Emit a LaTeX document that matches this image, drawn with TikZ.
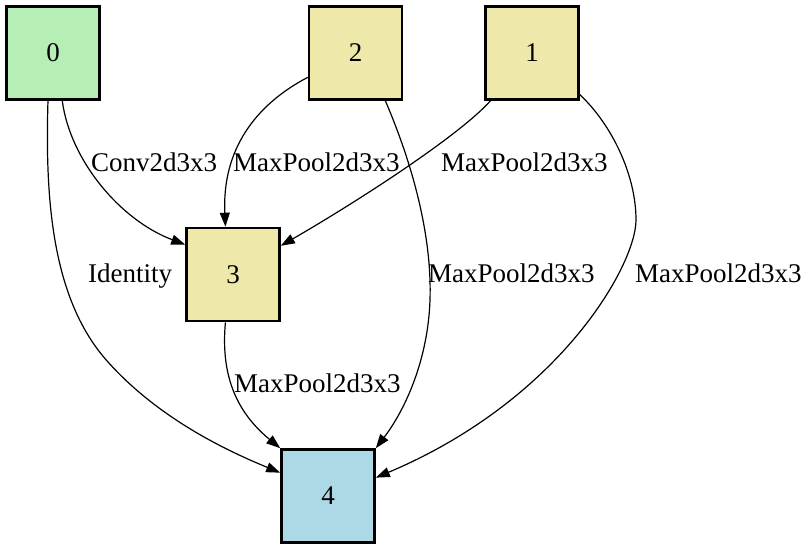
\documentclass[tikz,border=0pt]{standalone}
\usepackage{fontspec}
\setmainfont{Liberation Serif}
\usetikzlibrary{arrows.meta}
\definecolor{opgreen}{HTML}{B5EFB5}
\definecolor{opkhaki}{HTML}{EEE8AA}
\definecolor{opblue}{HTML}{ADD8E6}
\begin{document}
\begin{tikzpicture}[x=1pt,y=-1pt,
  opnode/.style={draw=black, line width=2.6pt, minimum width=93pt, minimum height=93pt,
    inner sep=0pt, font=\fontsize{27}{30}\selectfont},
  edgelbl/.style={anchor=base west, inner sep=0pt, font=\fontsize{27}{30}\selectfont},
  flow/.style={line width=1.2pt, -{Triangle[length=14pt,width=10pt]}}]
\useasboundingbox (0,0) rectangle (811,549);
% operation nodes
\node[opnode, fill=opgreen] (n0) at (53,53) {0};
\node[opnode, fill=opkhaki] (n2) at (355.5,53) {2};
\node[opnode, fill=opkhaki] (n1) at (532,53) {1};
\node[opnode, fill=opkhaki] (n3) at (233,274.5) {3};
\node[opnode, fill=opblue] (n4) at (328,496) {4};
% edges
\draw[flow] (n0.-79.4) .. controls (70,160) and (120,220) .. (n3.148);
\draw[flow] (n0.-96) .. controls (45,200) and (52,300) .. (108,362)
  .. controls (160,420) and (230,452) .. (n4.154.4);
\draw[flow] (n2.207.5) .. controls (255,105) and (222,150) .. (n3.99.4);
\draw[flow] (n2.-58.4) .. controls (415,170) and (432,240) .. (430,300)
  .. controls (428,360) and (405,410) .. (n4.north east);
\draw[flow] (n1.-131.2) .. controls (460,135) and (360,200) .. (n3.31);
\draw[flow] (n1.-41.2) .. controls (612,125) and (636,175) .. (636,220)
  .. controls (636,265) and (560,400) .. (n4.21.6);
\draw[flow] (n3.-99.4) .. controls (220,380) and (240,415) .. (n4.north west);
% edge labels
\node[edgelbl] (l03) at (91,171) {Conv2d3x3};
\node[edgelbl] (l23) at (233,171) {MaxPool2d3x3};
\node[edgelbl] (l13) at (441,171) {MaxPool2d3x3};
\node[edgelbl] (l04) at (88,282) {Identity};
\node[edgelbl] (l24) at (428,282) {MaxPool2d3x3};
\node[edgelbl] (l14) at (635,282) {MaxPool2d3x3};
\node[edgelbl] (l34) at (234,392) {MaxPool2d3x3};
\end{tikzpicture}
\end{document}
